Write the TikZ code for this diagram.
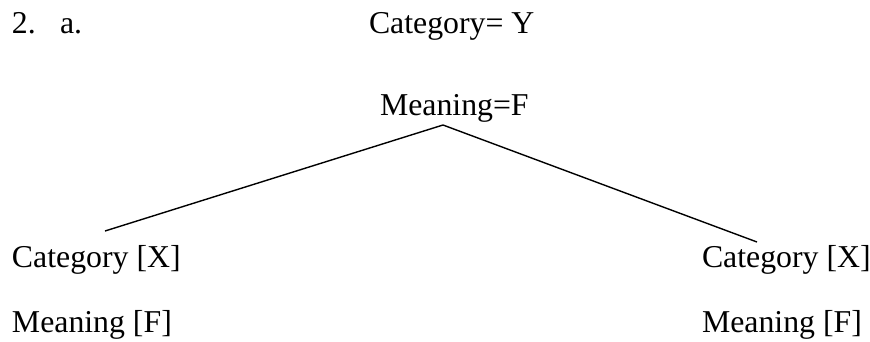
\documentclass[tikz,border=0pt]{standalone}
\usepackage{fontspec}
\setmainfont{Liberation Serif}
\tikzset{
  lbl/.style={anchor=base west, inner sep=0pt, outer sep=0pt, font=\fontsize{31.8}{38}\selectfont},
  branch/.style={line width=1.4pt, black}
}
\begin{document}
\begin{tikzpicture}[x=1pt,y=-1pt]
\useasboundingbox (0,0) rectangle (870,341);
\node[lbl] (num) at (12,33) {2.};
\node[lbl] (sub) at (60,33) {a.};
\node[lbl] (cat) at (369,33) {Category= Y};
\node[lbl] (mean) at (380,115) {Meaning=F};
\node[lbl] (lcat) at (12,267) {Category [X]};
\node[lbl] (rcat) at (702,267) {Category [X]};
\node[lbl] (lmean) at (12,332) {Meaning [F]};
\node[lbl] (rmean) at (702,332) {Meaning [F]};
\coordinate (apex) at (443,125);
\coordinate (lend) at (105,231);
\coordinate (rend) at (757,242);
\draw[branch] (lend) -- (apex) -- (rend);
\end{tikzpicture}
\end{document}
